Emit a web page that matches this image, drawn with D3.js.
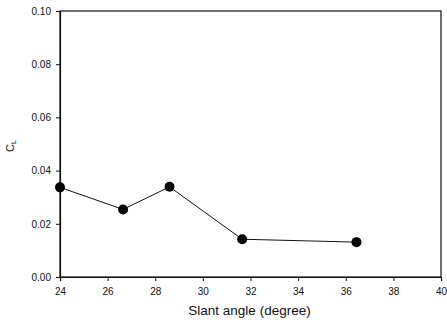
<!DOCTYPE html>
<html>
<head>
<meta charset="utf-8">
<script src="https://cdn.jsdelivr.net/npm/d3@7"></script>
<style>
  body { margin: 0; background: #fff; }
  svg { display: block; }
  .tick text { font-family: Arial, "Liberation Sans", sans-serif; font-size: 10px; fill: #111; }
  .domain, .tick line { stroke: #111; }
</style>
</head>
<body>
<svg id="chart" width="447" height="323"></svg>
<script>
// slant angle (deg) vs lift coefficient
var slantAngle = [24.0, 26.65, 28.6, 31.65, 36.45];
var liftCoef = [0.0337, 0.0254, 0.0339, 0.0142, 0.0131];
var xTicks = [24, 26, 28, 30, 32, 34, 36, 38, 40];
var yTicks = [0, 0.02, 0.04, 0.06, 0.08, 0.10];

var svg = d3.select('#chart');
var margin = {top: 11, right: 6, bottom: 46, left: 60};
var width = 447 - margin.left - margin.right;
var height = 323 - margin.top - margin.bottom;

var x = d3.scaleLinear().domain([24, 40]).range([0, width]);
var y = d3.scaleLinear().domain([0, 0.1]).range([height, 0]);

var g = svg.append('g')
  .attr('transform', 'translate(' + margin.left + ',' + margin.top + ')');

// frame
g.append('rect')
  .attr('width', width)
  .attr('height', height)
  .attr('fill', 'none')
  .attr('stroke', '#111')
  .attr('stroke-width', 1.2);

g.append('g')
  .attr('transform', 'translate(0,' + height + ')')
  .call(d3.axisBottom(x).tickValues(xTicks).tickSize(4).tickPadding(7).tickFormat(d3.format('d')))
  .call(function(a) { a.select('.domain').attr('stroke-width', 1.2); });

g.append('g')
  .call(d3.axisLeft(y).tickValues(yTicks).tickSize(4).tickPadding(5).tickFormat(d3.format('.2f')))
  .call(function(a) { a.select('.domain').attr('stroke-width', 1.2); });

// line + markers
var line = d3.line()
  .x(function(d, i) { return x(slantAngle[i]); })
  .y(function(d) { return y(d); });

g.append('path')
  .datum(liftCoef)
  .attr('d', line)
  .attr('fill', 'none')
  .attr('stroke', '#111')
  .attr('stroke-width', 1);

g.selectAll('circle.pt')
  .data(liftCoef)
  .enter().append('circle')
  .attr('class', 'pt')
  .attr('cx', function(d, i) { return x(slantAngle[i]); })
  .attr('cy', function(d) { return y(d); })
  .attr('r', 5)
  .attr('fill', '#000');

// axis titles
svg.append('text')
  .attr('x', margin.left + width / 2 - 1)
  .attr('y', 315)
  .attr('text-anchor', 'middle')
  .attr('font-family', 'Arial, "Liberation Sans", sans-serif')
  .attr('font-size', 13.5)
  .attr('fill', '#111')
  .text('Slant angle (degree)');

var yl = svg.append('text')
  .attr('transform', 'translate(14,146) rotate(-90)')
  .attr('text-anchor', 'middle')
  .attr('font-family', 'Arial, "Liberation Sans", sans-serif')
  .attr('font-size', 11)
  .attr('fill', '#111');
yl.append('tspan').text('C');
yl.append('tspan').attr('font-size', 7).attr('dy', 2).text('L');
</script>
</body>
</html>
